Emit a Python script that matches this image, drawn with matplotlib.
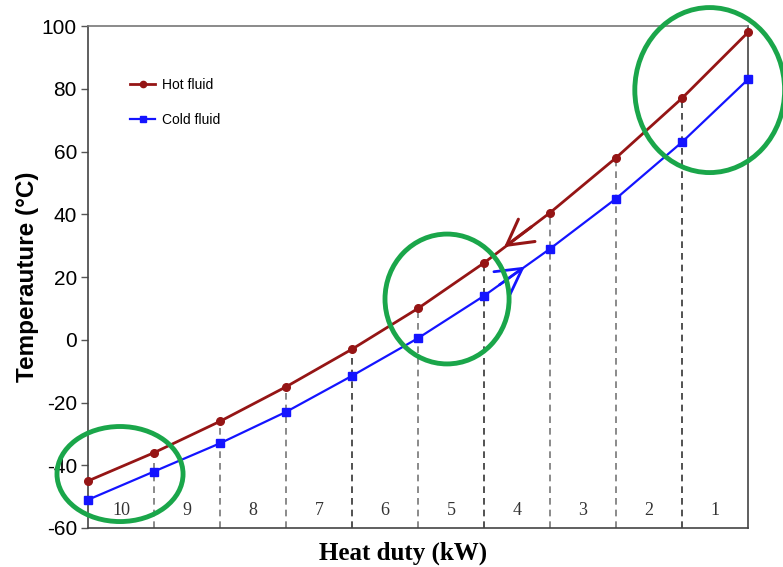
import numpy as np
import matplotlib
matplotlib.use('Agg')
import matplotlib.pyplot as plt
from matplotlib.patches import Ellipse

plt.rcParams['axes.unicode_minus'] = False

# data
duty = np.arange(11)
hot = [-45, -36, -26, -15, -3, 10, 24.5, 40.5, 58, 77, 98]
cold = [-51, -42, -33, -23, -11.5, 0.5, 14, 29, 45, 63, 83]
seg_labels = ['10', '9', '8', '7', '6', '5', '4', '3', '2', '1']
dark_lines = [4, 6, 9]

# green circles marking the pinch-ish zones (centre x, centre y, w, h)
circ_x = [0.485, 5.44, 9.42]
circ_y = [-42.8, 13.0, 79.6]
circ_w = [1.91, 1.88, 2.27]
circ_h = [30.3, 41.4, 52.6]

hot_col = '#951515'
cold_col = '#1414ff'

fig = plt.figure(figsize=(7.83, 5.67), dpi=100)
ax = fig.add_axes([0.1124, 0.0688, 0.8429, 0.8852])

# dashed interval lines, from the hot curve down to the axis
for i in range(1, 10):
    c = '#333333' if i in dark_lines else '#777777'
    ax.plot([duty[i], duty[i]], [-60, hot[i]], ls=(0, (4, 3)), color=c, lw=1.2, zorder=1)

ax.plot(duty, hot, '-o', color=hot_col, lw=2, ms=5.5, label='Hot fluid', zorder=3, clip_on=False)
ax.plot(duty, cold, '-s', color=cold_col, lw=1.6, ms=5.5, label='Cold fluid', zorder=3, clip_on=False)

# flow direction arrows
ax.annotate('', xy=(6.27, 29.0), xytext=(6.75, 36.5),
            arrowprops=dict(arrowstyle='->,head_length=0.9,head_width=0.5',
                            color=hot_col, lw=2.2, mutation_scale=20), zorder=4)
ax.annotate('', xy=(6.65, 23.8), xytext=(6.2, 17.0),
            arrowprops=dict(arrowstyle='->,head_length=0.9,head_width=0.5',
                            color=cold_col, lw=2.0, mutation_scale=20), zorder=4)

for cx, cy, w, h in zip(circ_x, circ_y, circ_w, circ_h):
    e = Ellipse((cx, cy), w, h, fill=False, ec='#1aa64a', lw=3.5, zorder=5, clip_on=False)
    ax.add_patch(e)

for i, lab in enumerate(seg_labels):
    ax.text(i + 0.5, -54.5, lab, ha='center', va='center', fontsize=13,
            family='Liberation Serif', color='#333333')

ax.set_xlim(0, 10)
ax.set_ylim(-60, 100)
ax.set_xticks([])
ax.set_yticks(np.arange(-60, 101, 20))
ax.tick_params(axis='y', direction='out', length=5, width=1, color='#555555',
               labelsize=15, pad=3)
for lab in ax.get_yticklabels():
    lab.set_family('Liberation Sans')
for s in ax.spines.values():
    s.set_color('#444444')
    s.set_linewidth(1.2)
ax.spines['top'].set_color('#777777')

ax.set_ylabel('Temperauture (°C)', fontsize=17.5, fontweight='bold', family='Liberation Sans')
ax.yaxis.set_label_coords(-0.075, 0.5)
ax.set_xlabel('Heat duty (kW)', fontsize=18, fontweight='bold', family='Liberation Serif')
ax.xaxis.set_label_coords(0.477, -0.027)

leg = ax.legend(loc='upper left', bbox_to_anchor=(0.045, 0.922), frameon=False,
                labelspacing=1.55, handlelength=1.8, handletextpad=0.5,
                prop={'family': 'Liberation Sans', 'size': 10})
for h in leg.legend_handles:
    h.set_markersize(4.5)

fig.savefig('out.png', dpi=100)
